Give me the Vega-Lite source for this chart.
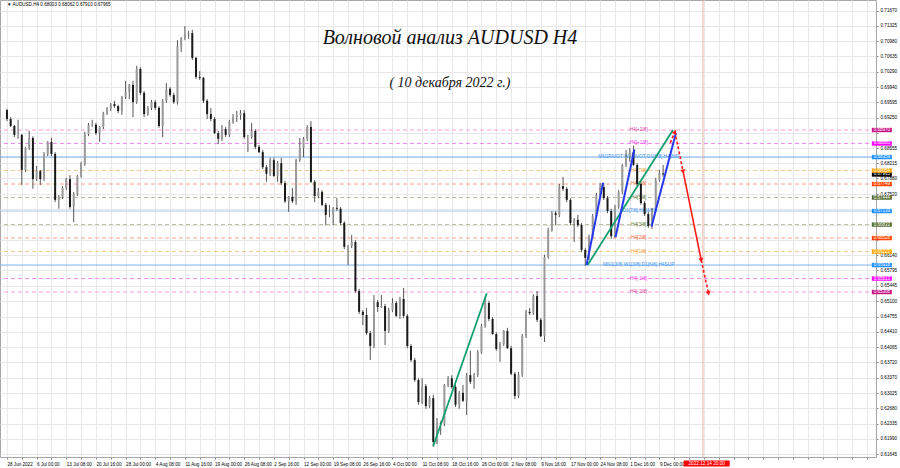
{
"$schema":"https://vega.github.io/schema/vega-lite/v6.json",
"width":876,"height":457,
"autosize":{"type":"none"},
"padding":{"left":0,"top":0,"right":24,"bottom":11},
"background":"white",
"config":{"view":{"stroke":"#a8a8a8"},"text":{"font":"Liberation Sans"},
 "axis":{"labelOverlap":false,"labelBound":false,"labelFlush":false,"labelFontSize":4.6,"labelFont":"Liberation Sans","labelColor":"#000000","grid":true,"gridColor":"#e8e8e8","gridWidth":1,"tickSize":2,"tickColor":"#888888","domain":false,"title":null,"labelPadding":2}},
"datasets":{
"bars":[
{"i":0,"o":0.6942,"h":0.6945,"l":0.6917,"c":0.6922},{"i":4,"o":0.6922,"h":0.6926,"l":0.6904,"c":0.6906},{"i":8,"o":0.6906,"h":0.6908,"l":0.6881,"c":0.6886},{"i":12,"o":0.6886,"h":0.6920,"l":0.6877,"c":0.6886},{"i":16,"o":0.6886,"h":0.6888,"l":0.6773,"c":0.6807},{"i":20,"o":0.6807,"h":0.6859,"l":0.6802,"c":0.6856},{"i":24,"o":0.6856,"h":0.6895,"l":0.6852,"c":0.6879},{"i":28,"o":0.6879,"h":0.6883,"l":0.6764,"c":0.6786},{"i":32,"o":0.6786,"h":0.6816,"l":0.6782,"c":0.6804},{"i":36,"o":0.6804,"h":0.6807,"l":0.6773,"c":0.6786},
{"i":40,"o":0.6786,"h":0.6847,"l":0.6782,"c":0.6843},{"i":44,"o":0.6843,"h":0.6872,"l":0.6838,"c":0.6870},{"i":48,"o":0.6870,"h":0.6879,"l":0.6838,"c":0.6843},{"i":52,"o":0.6843,"h":0.6847,"l":0.6734,"c":0.6739},{"i":56,"o":0.6739,"h":0.6750,"l":0.6719,"c":0.6746},{"i":60,"o":0.6746,"h":0.6770,"l":0.6741,"c":0.6766},{"i":64,"o":0.6766,"h":0.6789,"l":0.6761,"c":0.6786},{"i":68,"o":0.6786,"h":0.6795,"l":0.6719,"c":0.6723},{"i":72,"o":0.6723,"h":0.6757,"l":0.6689,"c":0.6752},{"i":76,"o":0.6752,"h":0.6795,"l":0.6748,"c":0.6793},
{"i":80,"o":0.6793,"h":0.6825,"l":0.6789,"c":0.6820},{"i":84,"o":0.6820,"h":0.6893,"l":0.6816,"c":0.6888},{"i":88,"o":0.6888,"h":0.6913,"l":0.6883,"c":0.6908},{"i":92,"o":0.6908,"h":0.6920,"l":0.6904,"c":0.6909},{"i":96,"o":0.6909,"h":0.6913,"l":0.6886,"c":0.6890},{"i":100,"o":0.6890,"h":0.6906,"l":0.6870,"c":0.6904},{"i":104,"o":0.6904,"h":0.6938,"l":0.6899,"c":0.6935},{"i":108,"o":0.6935,"h":0.6949,"l":0.6931,"c":0.6945},{"i":112,"o":0.6945,"h":0.6958,"l":0.6940,"c":0.6956},{"i":116,"o":0.6956,"h":0.6963,"l":0.6947,"c":0.6951},
{"i":120,"o":0.6951,"h":0.6954,"l":0.6935,"c":0.6940},{"i":124,"o":0.6940,"h":0.6974,"l":0.6931,"c":0.6972},{"i":128,"o":0.6972,"h":0.7008,"l":0.6967,"c":0.6983},{"i":132,"o":0.6983,"h":0.7001,"l":0.6967,"c":0.6999},{"i":136,"o":0.6999,"h":0.7008,"l":0.6926,"c":0.6960},{"i":140,"o":0.6960,"h":0.7042,"l":0.6956,"c":0.7035},{"i":144,"o":0.7035,"h":0.7039,"l":0.6976,"c":0.6981},{"i":148,"o":0.6981,"h":0.6985,"l":0.6926,"c":0.6933},{"i":152,"o":0.6933,"h":0.6951,"l":0.6929,"c":0.6947},{"i":156,"o":0.6947,"h":0.6965,"l":0.6942,"c":0.6960},
{"i":160,"o":0.6960,"h":0.6965,"l":0.6942,"c":0.6947},{"i":164,"o":0.6947,"h":0.6951,"l":0.6902,"c":0.6906},{"i":168,"o":0.6906,"h":0.6967,"l":0.6881,"c":0.6963},{"i":172,"o":0.6963,"h":0.7003,"l":0.6958,"c":0.6990},{"i":176,"o":0.6990,"h":0.6994,"l":0.6972,"c":0.6976},{"i":180,"o":0.6976,"h":0.6981,"l":0.6956,"c":0.6960},{"i":184,"o":0.6960,"h":0.7100,"l":0.6954,"c":0.7087},{"i":188,"o":0.7087,"h":0.7107,"l":0.7073,"c":0.7104},{"i":192,"o":0.7104,"h":0.7132,"l":0.7100,"c":0.7114},{"i":196,"o":0.7114,"h":0.7121,"l":0.7103,"c":0.7116},
{"i":200,"o":0.7116,"h":0.7123,"l":0.7055,"c":0.7060},{"i":204,"o":0.7060,"h":0.7062,"l":0.7012,"c":0.7017},{"i":208,"o":0.7017,"h":0.7030,"l":0.7010,"c":0.7015},{"i":212,"o":0.7015,"h":0.7017,"l":0.6958,"c":0.6963},{"i":216,"o":0.6963,"h":0.6967,"l":0.6922,"c":0.6933},{"i":220,"o":0.6933,"h":0.6947,"l":0.6917,"c":0.6922},{"i":224,"o":0.6922,"h":0.6926,"l":0.6888,"c":0.6890},{"i":228,"o":0.6890,"h":0.6895,"l":0.6865,"c":0.6877},{"i":232,"o":0.6877,"h":0.6908,"l":0.6872,"c":0.6899},{"i":236,"o":0.6899,"h":0.6904,"l":0.6881,"c":0.6886},
{"i":240,"o":0.6886,"h":0.6920,"l":0.6881,"c":0.6915},{"i":244,"o":0.6915,"h":0.6933,"l":0.6911,"c":0.6926},{"i":248,"o":0.6926,"h":0.6940,"l":0.6915,"c":0.6931},{"i":252,"o":0.6931,"h":0.6942,"l":0.6920,"c":0.6935},{"i":256,"o":0.6935,"h":0.6942,"l":0.6877,"c":0.6881},{"i":260,"o":0.6881,"h":0.6886,"l":0.6847,"c":0.6881},{"i":264,"o":0.6881,"h":0.6913,"l":0.6877,"c":0.6895},{"i":268,"o":0.6895,"h":0.6899,"l":0.6854,"c":0.6859},{"i":272,"o":0.6859,"h":0.6863,"l":0.6845,"c":0.6847},{"i":276,"o":0.6847,"h":0.6852,"l":0.6809,"c":0.6813},
{"i":280,"o":0.6813,"h":0.6818,"l":0.6780,"c":0.6798},{"i":284,"o":0.6798,"h":0.6834,"l":0.6793,"c":0.6829},{"i":288,"o":0.6829,"h":0.6834,"l":0.6791,"c":0.6793},{"i":292,"o":0.6793,"h":0.6827,"l":0.6780,"c":0.6822},{"i":296,"o":0.6822,"h":0.6834,"l":0.6773,"c":0.6777},{"i":300,"o":0.6777,"h":0.6782,"l":0.6732,"c":0.6736},{"i":304,"o":0.6736,"h":0.6748,"l":0.6712,"c":0.6746},{"i":308,"o":0.6746,"h":0.6766,"l":0.6732,"c":0.6736},{"i":312,"o":0.6736,"h":0.6832,"l":0.6728,"c":0.6829},{"i":316,"o":0.6829,"h":0.6879,"l":0.6825,"c":0.6856},
{"i":320,"o":0.6856,"h":0.6881,"l":0.6836,"c":0.6877},{"i":324,"o":0.6877,"h":0.6908,"l":0.6872,"c":0.6904},{"i":328,"o":0.6904,"h":0.6917,"l":0.6777,"c":0.6780},{"i":332,"o":0.6780,"h":0.6784,"l":0.6734,"c":0.6748},{"i":336,"o":0.6748,"h":0.6766,"l":0.6743,"c":0.6757},{"i":340,"o":0.6757,"h":0.6761,"l":0.6725,"c":0.6728},{"i":344,"o":0.6728,"h":0.6732,"l":0.6682,"c":0.6705},{"i":348,"o":0.6705,"h":0.6728,"l":0.6700,"c":0.6705},{"i":352,"o":0.6705,"h":0.6723,"l":0.6682,"c":0.6721},{"i":356,"o":0.6721,"h":0.6743,"l":0.6714,"c":0.6719},
{"i":360,"o":0.6719,"h":0.6723,"l":0.6682,"c":0.6687},{"i":364,"o":0.6687,"h":0.6691,"l":0.6628,"c":0.6633},{"i":368,"o":0.6633,"h":0.6637,"l":0.6592,"c":0.6635},{"i":372,"o":0.6635,"h":0.6660,"l":0.6630,"c":0.6644},{"i":376,"o":0.6644,"h":0.6648,"l":0.6529,"c":0.6533},{"i":380,"o":0.6533,"h":0.6538,"l":0.6481,"c":0.6486},{"i":384,"o":0.6486,"h":0.6490,"l":0.6456,"c":0.6479},{"i":388,"o":0.6479,"h":0.6495,"l":0.6434,"c":0.6438},{"i":392,"o":0.6438,"h":0.6443,"l":0.6377,"c":0.6409},{"i":396,"o":0.6409,"h":0.6524,"l":0.6404,"c":0.6508},
{"i":400,"o":0.6508,"h":0.6513,"l":0.6486,"c":0.6497},{"i":404,"o":0.6497,"h":0.6524,"l":0.6495,"c":0.6499},{"i":408,"o":0.6499,"h":0.6504,"l":0.6411,"c":0.6443},{"i":412,"o":0.6443,"h":0.6495,"l":0.6438,"c":0.6490},{"i":416,"o":0.6490,"h":0.6517,"l":0.6486,"c":0.6506},{"i":420,"o":0.6506,"h":0.6511,"l":0.6474,"c":0.6477},{"i":424,"o":0.6477,"h":0.6520,"l":0.6470,"c":0.6515},{"i":428,"o":0.6515,"h":0.6540,"l":0.6472,"c":0.6477},{"i":432,"o":0.6477,"h":0.6481,"l":0.6404,"c":0.6409},{"i":436,"o":0.6409,"h":0.6413,"l":0.6373,"c":0.6377},
{"i":440,"o":0.6377,"h":0.6382,"l":0.6328,"c":0.6332},{"i":444,"o":0.6332,"h":0.6336,"l":0.6276,"c":0.6282},{"i":448,"o":0.6282,"h":0.6336,"l":0.6278,"c":0.6318},{"i":452,"o":0.6318,"h":0.6323,"l":0.6267,"c":0.6273},{"i":456,"o":0.6273,"h":0.6296,"l":0.6269,"c":0.6291},{"i":460,"o":0.6291,"h":0.6298,"l":0.6181,"c":0.6192},{"i":464,"o":0.6192,"h":0.6246,"l":0.6187,"c":0.6235},{"i":468,"o":0.6235,"h":0.6239,"l":0.6208,"c":0.6233},{"i":472,"o":0.6233,"h":0.6323,"l":0.6228,"c":0.6321},{"i":476,"o":0.6321,"h":0.6341,"l":0.6316,"c":0.6336},
{"i":480,"o":0.6336,"h":0.6343,"l":0.6312,"c":0.6316},{"i":484,"o":0.6316,"h":0.6321,"l":0.6271,"c":0.6276},{"i":488,"o":0.6276,"h":0.6307,"l":0.6267,"c":0.6303},{"i":492,"o":0.6303,"h":0.6321,"l":0.6282,"c":0.6285},{"i":496,"o":0.6285,"h":0.6348,"l":0.6253,"c":0.6343},{"i":500,"o":0.6343,"h":0.6398,"l":0.6323,"c":0.6328},{"i":504,"o":0.6328,"h":0.6348,"l":0.6312,"c":0.6343},{"i":508,"o":0.6343,"h":0.6400,"l":0.6339,"c":0.6395},{"i":512,"o":0.6395,"h":0.6459,"l":0.6391,"c":0.6454},{"i":516,"o":0.6454,"h":0.6520,"l":0.6450,"c":0.6506},
{"i":520,"o":0.6506,"h":0.6511,"l":0.6465,"c":0.6470},{"i":524,"o":0.6470,"h":0.6474,"l":0.6434,"c":0.6436},{"i":528,"o":0.6436,"h":0.6440,"l":0.6398,"c":0.6402},{"i":532,"o":0.6402,"h":0.6418,"l":0.6373,"c":0.6413},{"i":536,"o":0.6413,"h":0.6445,"l":0.6409,"c":0.6443},{"i":540,"o":0.6443,"h":0.6450,"l":0.6402,"c":0.6404},{"i":544,"o":0.6404,"h":0.6409,"l":0.6343,"c":0.6346},{"i":548,"o":0.6346,"h":0.6350,"l":0.6289,"c":0.6296},{"i":552,"o":0.6296,"h":0.6350,"l":0.6291,"c":0.6343},{"i":556,"o":0.6343,"h":0.6436,"l":0.6339,"c":0.6431},
{"i":560,"o":0.6431,"h":0.6490,"l":0.6427,"c":0.6486},{"i":564,"o":0.6486,"h":0.6495,"l":0.6479,"c":0.6483},{"i":568,"o":0.6483,"h":0.6526,"l":0.6479,"c":0.6522},{"i":572,"o":0.6522,"h":0.6533,"l":0.6463,"c":0.6468},{"i":576,"o":0.6468,"h":0.6472,"l":0.6429,"c":0.6431},{"i":580,"o":0.6431,"h":0.6615,"l":0.6418,"c":0.6610},{"i":584,"o":0.6610,"h":0.6676,"l":0.6606,"c":0.6671},{"i":588,"o":0.6671,"h":0.6714,"l":0.6667,"c":0.6709},{"i":592,"o":0.6709,"h":0.6714,"l":0.6682,"c":0.6705},{"i":596,"o":0.6705,"h":0.6775,"l":0.6700,"c":0.6770},
{"i":600,"o":0.6770,"h":0.6791,"l":0.6759,"c":0.6764},{"i":604,"o":0.6764,"h":0.6768,"l":0.6734,"c":0.6739},{"i":608,"o":0.6739,"h":0.6743,"l":0.6682,"c":0.6687},{"i":612,"o":0.6687,"h":0.6698,"l":0.6644,"c":0.6694},{"i":616,"o":0.6694,"h":0.6705,"l":0.6678,"c":0.6682},{"i":620,"o":0.6682,"h":0.6687,"l":0.6621,"c":0.6626},{"i":624,"o":0.6626,"h":0.6630,"l":0.6590,"c":0.6608},{"i":628,"o":0.6608,"h":0.6660,"l":0.6603,"c":0.6655},{"i":632,"o":0.6655,"h":0.6707,"l":0.6651,"c":0.6703},{"i":636,"o":0.6703,"h":0.6755,"l":0.6698,"c":0.6750},
{"i":640,"o":0.6750,"h":0.6777,"l":0.6746,"c":0.6768},{"i":644,"o":0.6768,"h":0.6777,"l":0.6739,"c":0.6743},{"i":648,"o":0.6743,"h":0.6748,"l":0.6709,"c":0.6714},{"i":652,"o":0.6714,"h":0.6719,"l":0.6651,"c":0.6657},{"i":656,"o":0.6657,"h":0.6728,"l":0.6653,"c":0.6723},{"i":660,"o":0.6723,"h":0.6761,"l":0.6719,"c":0.6757},{"i":664,"o":0.6757,"h":0.6820,"l":0.6752,"c":0.6818},{"i":668,"o":0.6818,"h":0.6852,"l":0.6813,"c":0.6836},{"i":672,"o":0.6836,"h":0.6856,"l":0.6825,"c":0.6847},{"i":676,"o":0.6847,"h":0.6861,"l":0.6816,"c":0.6818},
{"i":680,"o":0.6818,"h":0.6822,"l":0.6770,"c":0.6775},{"i":684,"o":0.6775,"h":0.6780,"l":0.6728,"c":0.6732},{"i":688,"o":0.6732,"h":0.6736,"l":0.6703,"c":0.6707},{"i":692,"o":0.6707,"h":0.6712,"l":0.6676,"c":0.6680},{"i":696,"o":0.6680,"h":0.6721,"l":0.6673,"c":0.6716},{"i":700,"o":0.6716,"h":0.6789,"l":0.6712,"c":0.6784},{"i":704,"o":0.6784,"h":0.6807,"l":0.6780,"c":0.6799},{"i":708,"o":0.6799,"h":0.6818,"l":0.6791,"c":0.67965}
],
"levels":[
{"n":"+2/8","p":0.68970,"t":"H4[+2/8]"},
{"n":"+1/8","p":0.68665,"t":"H4[+1/8]"},
{"n":"8/8","p":0.68359,"t":"MN1PIVOT W1PIVOT D1[8/8] H4[8/8]"},
{"n":"7/8","p":0.68054,"t":"H4[7/8]"},
{"n":"6/8","p":0.67749,"t":"H4[6/8]"},
{"n":"5/8","p":0.67444,"t":"H4[5/8]"},
{"n":"4/8","p":0.67139,"t":"D1[7/8] H4[4/8]"},
{"n":"3/8","p":0.66833,"t":"H4[3/8]"},
{"n":"2/8","p":0.66528,"t":"H4[2/8]"},
{"n":"1/8","p":0.66223,"t":"H4[1/8]"},
{"n":"0/8","p":0.65918,"t":"MN1[3/8] W1[3/8] D1[6/8] H4SUP"},
{"n":"-1/8","p":0.65613,"t":"H4[-1/8]"},
{"n":"-2/8","p":0.65308,"t":"H4[-2/8]"}
],
"green":[{"s":"g1","i":460,"p":0.6183},{"s":"g1","i":517.7,"p":0.6528},{"s":"g2","i":626.5,"p":0.65918},{"s":"g2","i":718.6,"p":0.6897}],
"blue":[{"s":"b1","i":625.4,"p":0.65918},{"s":"b1","i":643.2,"p":0.6778},{"s":"b2","i":656.7,"p":0.6655},{"s":"b2","i":677,"p":0.6853},{"s":"b3","i":695.5,"p":0.6679},{"s":"b3","i":721.8,"p":0.6890}],
"reddash":[{"s":"r1","i":715.7,"p":0.6868},{"s":"r1","i":720.7,"p":0.6893},{"s":"r2","i":720.7,"p":0.6893},{"s":"r2","i":729.6,"p":0.6803},{"s":"r4","i":749.1,"p":0.6603},{"s":"r4","i":757,"p":0.6528}],
"redsolid":[{"s":"r3","i":729.6,"p":0.6803},{"s":"r3","i":749.1,"p":0.6603}],
"arrowUp":[{"i":720.7,"p":0.6893}],
"arrowDown":[{"i":729.6,"p":0.6803},{"i":749.1,"p":0.6603},{"i":757,"p":0.6528}]
},
"layer":[
{"data":{"name":"levels"},"mark":{"type":"rule"},
 "encoding":{
  "y":{"field":"p","type":"quantitative","title":null,"scale":{"domain":[0.6158,0.71908],"nice":false,"zero":false},
   "axis":{"orient":"right","title":null,"format":".5f","labelOverlap":false,"tickCount":200,
    "values":[0.7167,0.71325,0.7098,0.70635,0.7029,0.6994,0.69595,0.6925,0.689,0.68555,0.68215,0.6788,0.6752,0.67175,0.6683,0.66485,0.6614,0.65795,0.65445,0.651,0.64755,0.6441,0.64065,0.6372,0.6337,0.63025,0.6268,0.62335,0.6199,0.61645],
    "labelExpr":"(abs(datum.value-0.689)<0.00001 || abs(datum.value-0.67175)<0.00001 || abs(datum.value-0.6683)<0.00001 || abs(datum.value-0.66485)<0.00001) ? '' : format(datum.value, '.5f')",
    "encode":{"labels":{"update":{"dy":{"signal":"abs(datum.value-0.6752)<0.00001 ? -3.6 : 0"}}}}}},
  "stroke":{"field":"n","type":"nominal","legend":null,"scale":{"domain":["+2/8","+1/8","8/8","7/8","6/8","5/8","4/8","3/8","2/8","1/8","0/8","-1/8","-2/8"],"range":["#f3a0d4","#f08cf0","#6ea8ea","#f8c88e","#f4a28e","#bcbca4","#a9c9ef","#bcbca4","#f4a28e","#f8c88e","#7db2ea","#f08cf0","#f3a0d4"]}},
  "strokeDash":{"field":"n","type":"nominal","legend":null,"scale":{"domain":["+2/8","+1/8","8/8","7/8","6/8","5/8","4/8","3/8","2/8","1/8","0/8","-1/8","-2/8"],"range":[[4,3],[4,3],[1,0],[4,3],[4,3],[4,3],[1,0],[4,3],[4,3],[4,3],[1,0],[4,3],[4,3]]}},
  "strokeWidth":{"field":"n","type":"ordinal","legend":null,"scale":{"domain":["+2/8","+1/8","8/8","7/8","6/8","5/8","4/8","3/8","2/8","1/8","0/8","-1/8","-2/8"],"range":[1,1,1.4,1,1,1,1,1,1,1,2,1,1]}}
 }},
{"data":{"values":[{"i":751}]},"mark":{"type":"rule","color":"#e9b3a5","strokeWidth":1},
 "encoding":{"x":{"field":"i","type":"quantitative","title":null,"scale":{"domain":[-2.1,932.3],"nice":false,"zero":false},
   "axis":{"orient":"bottom","title":null,"labelOverlap":false,"tickCount":200,
    "values":[0,16,32,48,64,80,96,112,128,144,160,176,192,208,224,240,256,272,288,304,320,336,352,368,384,400,416,432,448,464,480,496,512,528,544,560,576,592,608,624,640,656,672,688,704,720,736,752,768,784,800,816,832,848,864,880,896,912,928],
    "labelExpr":"datum.value % 32 == 0 && datum.value <= 704 ? ['28 Jun 2022','6 Jul 00:00','13 Jul 08:00','20 Jul 16:00','28 Jul 00:00','4 Aug 08:00','11 Aug 16:00','19 Aug 00:00','26 Aug 08:00','2 Sep 16:00','12 Sep 00:00','19 Sep 08:00','26 Sep 16:00','4 Oct 00:00','11 Oct 08:00','18 Oct 16:00','26 Oct 00:00','2 Nov 08:00','9 Nov 16:00','17 Nov 00:00','24 Nov 08:00','1 Dec 16:00','9 Dec 00:00'][datum.value / 32] : ''",
    "labelAlign":"left","labelBaseline":"top"}}}},
{"data":{"name":"levels"},"mark":{"type":"text","align":"center","baseline":"middle","fontSize":4.8,"font":"Liberation Sans"},
 "encoding":{"x":{"datum":681.6,"type":"quantitative"},"y":{"field":"p","type":"quantitative","title":null},"text":{"field":"t"},
  "fill":{"field":"n","type":"nominal","legend":null,"scale":{"domain":["+2/8","+1/8","8/8","7/8","6/8","5/8","4/8","3/8","2/8","1/8","0/8","-1/8","-2/8"],"range":["#d43c9e","#ee3cee","#3d93ee","#f3a032","#f26a42","#6b7f45","#3d93ee","#6b7f45","#f26a42","#f3a032","#3d93ee","#ee3cee","#d43c9e"]}}}},
{"data":{"name":"bars"},"mark":{"type":"rule","color":"#444444","strokeWidth":0.9},
 "encoding":{"x":{"field":"i","type":"quantitative","title":null},"y":{"field":"l","type":"quantitative","title":null},"y2":{"field":"h"}}},
{"data":{"name":"bars"},"mark":{"type":"bar","width":2},
 "encoding":{"x":{"field":"i","type":"quantitative","title":null},"y":{"field":"o","type":"quantitative","title":null},"y2":{"field":"c"},
  "color":{"condition":{"test":"datum.c >= datum.o","value":"#9a9a9a"},"value":"#1a1a1a"}}},
{"data":{"name":"green"},"mark":{"type":"line","color":"#13a06e","strokeWidth":1.8},
 "encoding":{"x":{"field":"i","type":"quantitative","title":null},"y":{"field":"p","type":"quantitative","title":null},"detail":{"field":"s"}}},
{"data":{"name":"blue"},"mark":{"type":"line","color":"#2438ee","strokeWidth":2},
 "encoding":{"x":{"field":"i","type":"quantitative","title":null},"y":{"field":"p","type":"quantitative","title":null},"detail":{"field":"s"}}},
{"data":{"name":"reddash"},"mark":{"type":"line","color":"#ff1a1a","strokeWidth":1.6,"strokeDash":[3,2]},
 "encoding":{"x":{"field":"i","type":"quantitative","title":null},"y":{"field":"p","type":"quantitative","title":null},"detail":{"field":"s"}}},
{"data":{"name":"redsolid"},"mark":{"type":"line","color":"#ff1a1a","strokeWidth":1.6},
 "encoding":{"x":{"field":"i","type":"quantitative","title":null},"y":{"field":"p","type":"quantitative","title":null},"detail":{"field":"s"}}},
{"data":{"name":"arrowUp"},"mark":{"type":"point","shape":"triangle-up","filled":true,"size":26,"color":"#ff1a1a","opacity":1,"angle":22},
 "encoding":{"x":{"field":"i","type":"quantitative","title":null},"y":{"field":"p","type":"quantitative","title":null}}},
{"data":{"name":"arrowDown"},"mark":{"type":"point","shape":"triangle-down","filled":true,"size":26,"color":"#ff1a1a","opacity":1,"angle":348},
 "encoding":{"x":{"field":"i","type":"quantitative","title":null},"y":{"field":"p","type":"quantitative","title":null}}},
{"data":{"values":[{"p":0.67965}]},"mark":{"type":"point","shape":"M-1,-0.22H1V0.22H-1Z","filled":true,"size":400,"color":"#000000","opacity":1},
 "encoding":{"x":{"datum":944,"type":"quantitative"},"y":{"field":"p","type":"quantitative","title":null}}},
{"data":{"values":[{"p":0.67965}]},"mark":{"type":"text","align":"center","baseline":"middle","fontSize":4.5,"color":"#ffffff","font":"Liberation Sans"},
 "encoding":{"x":{"datum":944,"type":"quantitative"},"y":{"field":"p","type":"quantitative","title":null},"text":{"field":"p","type":"quantitative","format":".5f"}}},
{"data":{"name":"levels"},"mark":{"type":"point","shape":"M-1,-0.22H1V0.22H-1Z","filled":true,"size":400,"opacity":1},
 "encoding":{"x":{"datum":944,"type":"quantitative"},"y":{"field":"p","type":"quantitative","title":null},
  "fill":{"field":"n","type":"nominal","legend":null,"scale":{"domain":["+2/8","+1/8","8/8","7/8","6/8","5/8","4/8","3/8","2/8","1/8","0/8","-1/8","-2/8"],"range":["#c71585","#ff00ff","#1e90ff","#ffa500","#ff4500","#556b2f","#1e90ff","#556b2f","#ff4500","#ffa500","#1e90ff","#ff00ff","#c71585"]}}}},
{"data":{"name":"levels"},"mark":{"type":"text","align":"center","baseline":"middle","fontSize":4.5,"color":"#ffffff","font":"Liberation Sans"},
 "encoding":{"x":{"datum":944,"type":"quantitative"},"y":{"field":"p","type":"quantitative","title":null},"text":{"field":"p","type":"quantitative","format":".5f"}}},
{"data":{"values":[{"t":"2022.12.14 20:00","i":755,"p":0.61433}]},"mark":{"type":"point","shape":"M-1,-0.13H1V0.13H-1Z","filled":true,"size":2116,"color":"#ff0000","opacity":1},
 "encoding":{"x":{"field":"i","type":"quantitative","title":null},"y":{"field":"p","type":"quantitative","title":null}}},
{"data":{"values":[{"t":"2022.12.14 20:00","i":755,"p":0.61433}]},"mark":{"type":"text","align":"center","baseline":"middle","fontSize":4.7,"color":"#ffffff","font":"Liberation Sans"},
 "encoding":{"x":{"field":"i","type":"quantitative","title":null},"y":{"field":"p","type":"quantitative","title":null},"text":{"field":"t"}}},
{"data":{"values":[{"t":"▼  AUDUSD,H4  0.68003 0.68062 0.67910 0.67965","i":0,"p":0.71795}]},"mark":{"type":"text","align":"left","baseline":"middle","fontSize":4.6,"color":"#000000","font":"Liberation Sans"},
 "encoding":{"x":{"field":"i","type":"quantitative","title":null},"y":{"field":"p","type":"quantitative","title":null},"text":{"field":"t"}}},
{"data":{"values":[{"t":"Волновой анализ AUDUSD H4","i":478,"p":0.7105}]},"mark":{"type":"text","align":"center","baseline":"middle","fontSize":20,"fontStyle":"italic","color":"#111111","font":"Liberation Serif"},
 "encoding":{"x":{"field":"i","type":"quantitative","title":null},"y":{"field":"p","type":"quantitative","title":null},"text":{"field":"t"}}},
{"data":{"values":[{"t":"( 10 декабря 2022 г.)","i":478,"p":0.7003}]},"mark":{"type":"text","align":"center","baseline":"middle","fontSize":14,"fontStyle":"italic","color":"#111111","font":"Liberation Serif"},
 "encoding":{"x":{"field":"i","type":"quantitative","title":null},"y":{"field":"p","type":"quantitative","title":null},"text":{"field":"t"}}}
],
"resolve":{"scale":{"fill":"independent","stroke":"independent"}}
}
